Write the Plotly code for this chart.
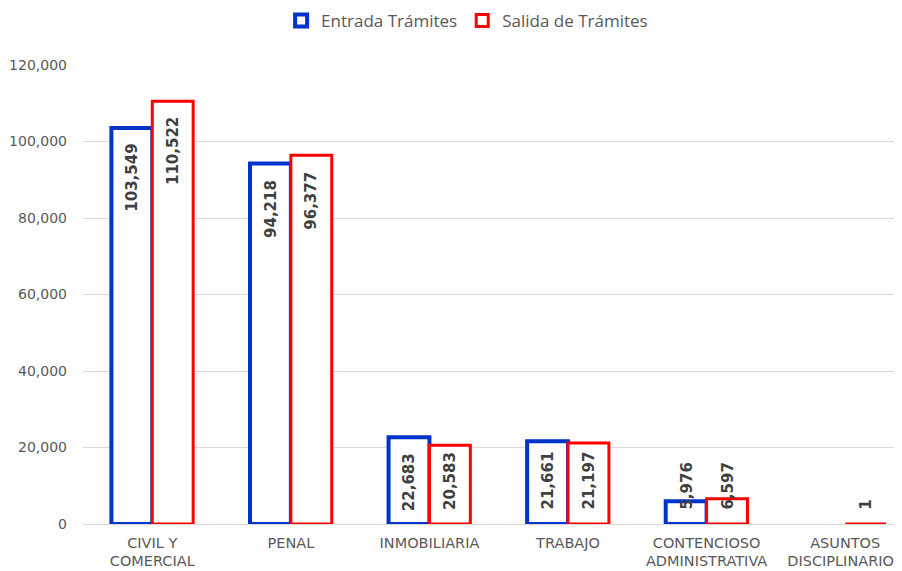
import plotly.graph_objects as go

categories = ["CIVIL Y<br>COMERCIAL", "PENAL", "INMOBILIARIA", "TRABAJO",
              "CONTENCIOSO<br>ADMINISTRATIVA", "ASUNTOS<br>DISCIPLINARIOS"]
entrada = [103549, 94218, 22683, 21661, 5976, None]
salida = [110522, 96377, 20583, 21197, 6597, 1]
y_ticks = [0, 20000, 40000, 60000, 80000, 100000, 120000]

BLUE = "#0033CC"
RED = "#FF0000"
LABEL = "#404040"
TICK = "#595959"

fig = go.Figure()
fig.add_trace(go.Bar(name="Entrada Trámites", x=categories, y=entrada,
                     marker=dict(color="white", line=dict(color=BLUE, width=4))))
fig.add_trace(go.Bar(name="Salida de Trámites", x=categories, y=salida,
                     marker=dict(color="white", line=dict(color=RED, width=3))))

annotations = []
for series, shift in ((entrada, -20.5), (salida, 20.5)):
    for cat, v in zip(categories, series):
        if v is None:
            continue
        if v >= 22000:
            ann = dict(y=v, yanchor="top", yshift=-14)
        else:
            ann = dict(y=0, yanchor="bottom", yshift=12)
        annotations.append(dict(x=cat, xref="x", yref="y", xshift=shift,
                                text=f"{v:,}", textangle=-90, showarrow=False,
                                xanchor="center",
                                font=dict(family="DejaVu Sans", size=15, color=LABEL,
                                          weight="bold"), **ann))

# the page body adds an 8px offset, so the figure is 8px smaller on each axis
fig.update_layout(
    width=894, height=563,
    margin=dict(l=75, r=0, t=57, b=47, autoexpand=False),
    paper_bgcolor="white", plot_bgcolor="white",
    barmode="group", bargap=0.41, bargroupgap=0,
    font=dict(family="DejaVu Sans", size=13, color=TICK),
    legend=dict(orientation="h", x=0.469, xanchor="center", y=1.096,
                yanchor="middle", font=dict(family="Open Sans", size=17, color=TICK),
                itemwidth=30, traceorder="normal"),
    annotations=annotations,
    showlegend=True,
)
fig.update_xaxes(range=[-0.5, 5.41], showline=False, ticks="", showgrid=False,
                 automargin=False, ticklabelstandoff=8,
                 tickfont=dict(family="DejaVu Sans", size=14.5, color=TICK))
fig.update_yaxes(range=[0, 120000], tickvals=y_ticks, tickformat=",",
                 showgrid=True, gridcolor="#D9D9D9", gridwidth=1,
                 zeroline=True, zerolinecolor="#D9D9D9", zerolinewidth=1,
                 showline=False, ticks="", automargin=False, ticklabelstandoff=15,
                 tickfont=dict(family="DejaVu Sans", size=14, color=TICK))

fig.write_html("out.html")
